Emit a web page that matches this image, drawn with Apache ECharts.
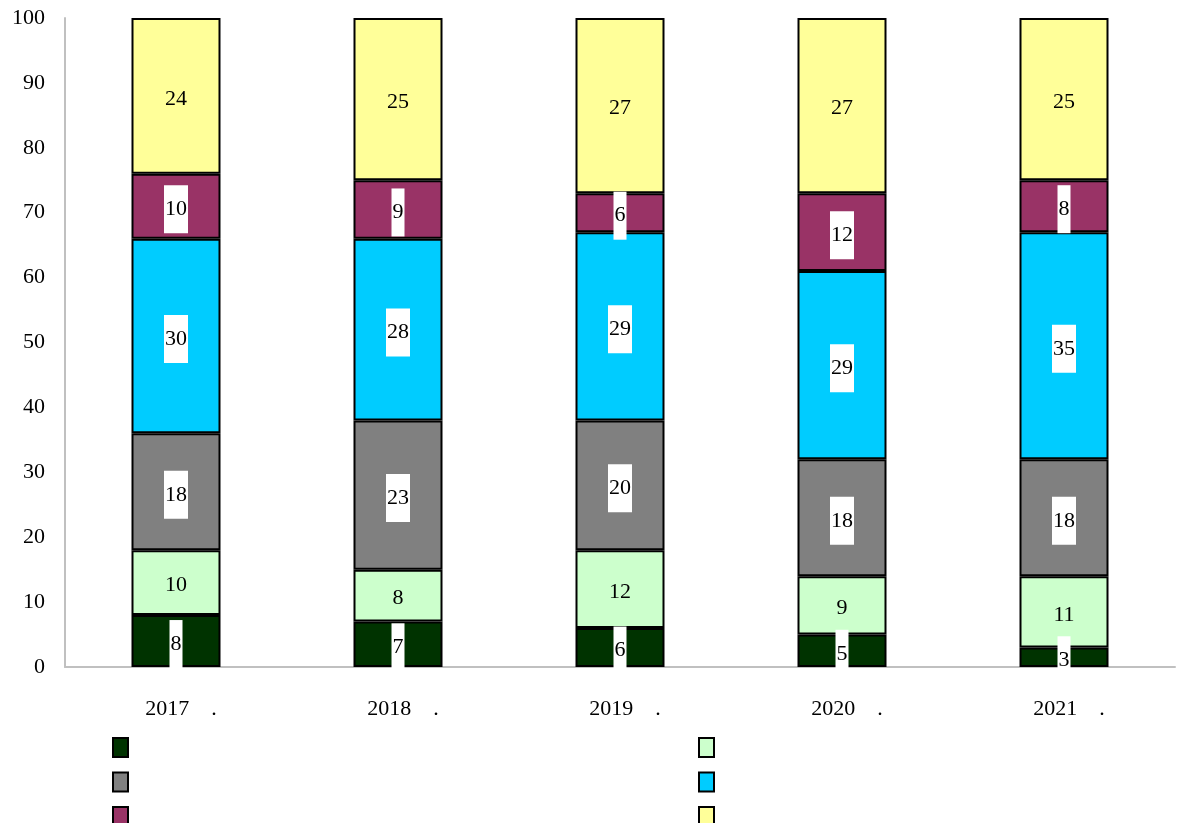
<!DOCTYPE html>
<html>
<head>
	<meta charset="utf-8">
	<title>chart</title>
	<script src="https://cdn.jsdelivr.net/npm/echarts@6/dist/echarts.min.js"></script>
	<style>
		html, body { margin: 0; padding: 0; background: #fff; }
		#main { width: 1181px; height: 823px; }
	</style>
</head>
<body>
<div id="main"></div>
<script>
var years = ['2017    .', '2018    .', '2019    .', '2020    .', '2021    .'];
var seriesNames = ['s1', 's2', 's3', 's4', 's5', 's6'];
var darkGreen = [8, 7, 6, 5, 3];
var lightGreen = [10, 8, 12, 9, 11];
var grey = [18, 23, 20, 18, 18];
var blue = [30, 28, 29, 29, 35];
var purple = [10, 9, 6, 12, 8];
var yellow = [24, 25, 27, 27, 25];
var colors = ['#003300', '#ccffcc', '#808080', '#00ccff', '#993366', '#ffff99'];
var whiteBox = [true, false, true, true, true, false];
var values = [darkGreen, lightGreen, grey, blue, purple, yellow];

var font = '"Liberation Serif", "DejaVu Serif", serif';

var series = values.map(function (d, i) {
	var label = {
		show: true,
		position: 'inside',
		offset: [0, 3],
		color: '#000',
		fontFamily: font,
		fontSize: 22
	};
	if (whiteBox[i]) {
		label.backgroundColor = '#fff';
		label.padding = [13, 1];
	}
	return {
		name: seriesNames[i],
		type: 'bar',
		stack: 'all',
		barWidth: 89,
		data: d,
		itemStyle: { color: colors[i], borderColor: '#000', borderWidth: 2 },
		label: label
	};
});

var legendBase = {
	orient: 'vertical',
	top: 737,
	height: 120,
	padding: 0,
	itemWidth: 15,
	itemHeight: 19,
	itemGap: 13.5,
	icon: 'rect',
	formatter: function () { return ''; },
	textStyle: { fontSize: 8 },
	itemStyle: { borderColor: '#000', borderWidth: 2 },
	selectedMode: false
};

echarts.init(document.getElementById('main')).setOption({
	animation: false,
	color: colors,
	grid: { left: 65, right: 6, top: 18, bottom: 156 },
	legend: [
		Object.assign({}, legendBase, { left: 112, data: ['s1', 's3', 's5'] }),
		Object.assign({}, legendBase, { left: 698, data: ['s2', 's4', 's6'] })
	],
	xAxis: {
		type: 'category',
		data: years,
		axisLine: { lineStyle: { color: '#c0c0c0', width: 2 } },
		axisTick: { show: false },
		axisLabel: { color: '#000', fontFamily: font, fontSize: 22, margin: 31, padding: [0, 0, 0, 10] }
	},
	yAxis: {
		type: 'value',
		min: 0,
		max: 100,
		interval: 10,
		axisLine: { show: true, lineStyle: { color: '#c0c0c0', width: 2 } },
		axisTick: { show: false },
		splitLine: { show: false },
		axisLabel: { color: '#000', fontFamily: font, fontSize: 22, margin: 20 }
	},
	series: series
});
</script>
</body>
</html>
